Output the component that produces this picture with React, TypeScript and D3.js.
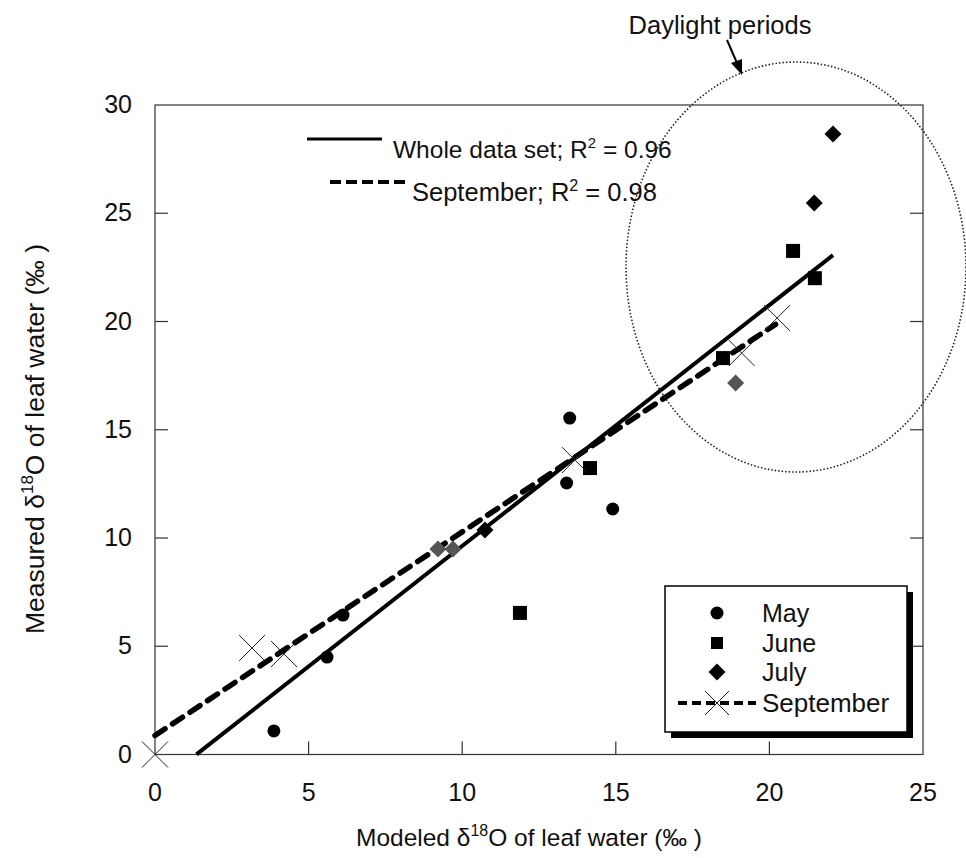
import React from "react";
import * as d3 from "d3";

// ---- data ----
const xTicks = [0, 5, 10, 15, 20, 25];
const yTicks = [0, 5, 10, 15, 20, 25, 30];

const mayX = [3.87, 5.6, 6.12, 13.5, 13.4, 14.9];
const mayY = [1.09, 4.5, 6.44, 15.54, 12.54, 11.34];

const juneX = [11.88, 14.16, 18.49, 20.77, 21.48];
const juneY = [6.54, 13.23, 18.31, 23.26, 22.0];

const julyX = [9.21, 9.7, 10.74, 18.9, 21.46, 22.07];
const julyY = [9.49, 9.49, 10.37, 17.16, 25.47, 28.66];
const julyGrey = [true, true, false, true, false, false];

const sepX = [0, 3.16, 4.2, 13.67, 19.1, 20.25];
const sepY = [0, 4.92, 4.64, 13.6, 18.54, 20.16];

// regression fits: [slope, intercept, xStart, xEnd]
const wholeFit = [1.113, -1.5, 1.35, 22.07];
const sepFit = [0.94, 0.88, 0, 20.2];

const legendItems = ["May", "June", "July", "September"];

const FONT = "'Liberation Sans', Arial, Helvetica, sans-serif";

export default function App() {
  const W = 966, H = 858;
  const left = 155, right = 923, top = 105, bottom = 754.5;
  const x = d3.scaleLinear().domain([0, 25]).range([left, right]);
  const y = d3.scaleLinear().domain([0, 30]).range([bottom, top]);

  const line = d3.line<number>().x((d) => x(d[0])).y((d) => y(d[1]));
  const fitPts = (f: number[]) => [
    [f[2], f[0] * f[2] + f[1]],
    [f[3], f[0] * f[3] + f[1]],
  ];

  const circle = (cx: number, cy: number, key: any) => (
    <circle key={key} cx={cx} cy={cy} r={6.5} fill="#000" />
  );
  const square = (cx: number, cy: number, key: any) => (
    <rect key={key} x={cx - 7} y={cy - 7} width={14} height={14} fill="#000" />
  );
  const diamond = (cx: number, cy: number, key: any, fill = "#000") => (
    <path
      key={key}
      d={`M${cx},${cy - 8.5}L${cx + 8.5},${cy}L${cx},${cy + 8.5}L${cx - 8.5},${cy}Z`}
      fill={fill}
    />
  );
  const cross = (cx: number, cy: number, key: any, s = 13) => (
    <g key={key} stroke="#222" strokeWidth={1}>
      <line x1={cx - s} y1={cy - s} x2={cx + s} y2={cy + s} />
      <line x1={cx - s} y1={cy + s} x2={cx + s} y2={cy - s} />
    </g>
  );

  const tickLen = 13;

  const lgX = 665, lgY = 586, lgW = 242, lgH = 146;
  const lgRowY = [613, 643, 672, 703];

  return (
    <svg
      width={W}
      height={H}
      style={{ position: "absolute", left: 0, top: 0, background: "#fff" }}
      fontFamily={FONT}
    >
      <rect width={W} height={H} fill="#fff" />
      {/* plot frame */}
      <rect
        x={left}
        y={top}
        width={right - left}
        height={bottom - top}
        fill="none"
        stroke="#333"
        strokeWidth={1.2}
      />
      {/* ticks */}
      {xTicks.map((t, i) => (
        <g key={"xt" + i}>
          {t > 0 && t < 25 && (
            <line x1={x(t)} x2={x(t)} y1={bottom} y2={bottom - tickLen} stroke="#333" strokeWidth={1.2} />
          )}
          <text x={x(t)} y={bottom + 46} fontSize={25} textAnchor="middle" fill="#111">
            {t}
          </text>
        </g>
      ))}
      {yTicks.map((t, i) => (
        <g key={"yt" + i}>
          {t > 0 && t < 30 && (
            <>
              <line x1={left} x2={left + tickLen} y1={y(t)} y2={y(t)} stroke="#333" strokeWidth={1.2} />
              <line x1={right} x2={right - tickLen} y1={y(t)} y2={y(t)} stroke="#333" strokeWidth={1.2} />
            </>
          )}
          <text x={132} y={y(t) + 8} fontSize={25} textAnchor="end" fill="#111">
            {t}
          </text>
        </g>
      ))}
      {/* axis titles */}
      <text x={529} y={846} fontSize={24.5} textAnchor="middle" fill="#111">
        Modeled δ<tspan dy={-10} fontSize={16}>18</tspan>
        <tspan dy={10}>O of leaf water (‰ )</tspan>
      </text>
      <text
        transform="translate(44,439) rotate(-90)"
        fontSize={26.5}
        textAnchor="middle"
        fill="#111"
      >
        Measured δ<tspan dy={-11} fontSize={17}>18</tspan>
        <tspan dy={11}>O of leaf water (‰ )</tspan>
      </text>

      {/* regression lines */}
      <path d={line(fitPts(wholeFit) as any) || ""} stroke="#000" strokeWidth={4} fill="none" />
      <path
        d={line(fitPts(sepFit) as any) || ""}
        stroke="#000"
        strokeWidth={5.5}
        strokeDasharray="12 9"
        strokeLinecap="round"
        fill="none"
      />

      {/* points */}
      {mayX.map((v, i) => circle(x(v), y(mayY[i]), "m" + i))}
      {juneX.map((v, i) => square(x(v), y(juneY[i]), "j" + i))}
      {julyX.map((v, i) => diamond(x(v), y(julyY[i]), "jl" + i, julyGrey[i] ? "#555" : "#000"))}
      {sepX.map((v, i) => cross(x(v), y(sepY[i]), "s" + i))}

      {/* top annotations */}
      <line x1={307} x2={382} y1={139} y2={139} stroke="#000" strokeWidth={3} />
      <text x={393} y={158} fontSize={24.5} fill="#111">
        Whole data set; R<tspan dy={-10} fontSize={15}>2</tspan>
        <tspan dy={10}> = 0.96</tspan>
      </text>
      <line x1={330} x2={407} y1={182} y2={182} stroke="#000" strokeWidth={4} strokeDasharray="11 5" />
      <text x={412} y={201} fontSize={25.5} fill="#111">
        September; R<tspan dy={-10} fontSize={16}>2</tspan>
        <tspan dy={10}> = 0.98</tspan>
      </text>

      {/* daylight ellipse */}
      <ellipse
        cx={796}
        cy={267}
        rx={170}
        ry={205}
        fill="none"
        stroke="#222"
        strokeWidth={1.6}
        strokeDasharray="1.5 2"
      />
      <text x={720} y={34} fontSize={25.5} textAnchor="middle" fill="#111">
        Daylight periods
      </text>
      <line x1={727} y1={40} x2={737} y2={63} stroke="#000" strokeWidth={2} />
      <path d="M742,75 L731,63 L742,59 Z" fill="#000" />

      {/* legend box */}
      <rect x={lgX + 6} y={lgY + 6} width={lgW} height={lgH} fill="#000" />
      <rect x={lgX} y={lgY} width={lgW} height={lgH} fill="#fff" stroke="#000" strokeWidth={1.5} />
      {legendItems.map((name, i) => {
        const cy = lgRowY[i];
        const cx = 717;
        let mark: any;
        if (i === 0) mark = circle(cx, cy, "lm");
        else if (i === 1) mark = <rect key="lj" x={cx - 6} y={cy - 6} width={12} height={12} fill="#000" />;
        else if (i === 2) mark = diamond(cx, cy, "ljl");
        else
          mark = (
            <g key="ls">
              <line x1={678} x2={756} y1={cy} y2={cy} stroke="#000" strokeWidth={4} strokeDasharray="9 5" />
              {cross(cx, cy, "lsx", 12)}
            </g>
          );
        return (
          <g key={"lg" + i}>
            {mark}
            <text x={762} y={cy + 9} fontSize={i === 3 ? 26 : 25} fill="#111">
              {name}
            </text>
          </g>
        );
      })}
    </svg>
  );
}
